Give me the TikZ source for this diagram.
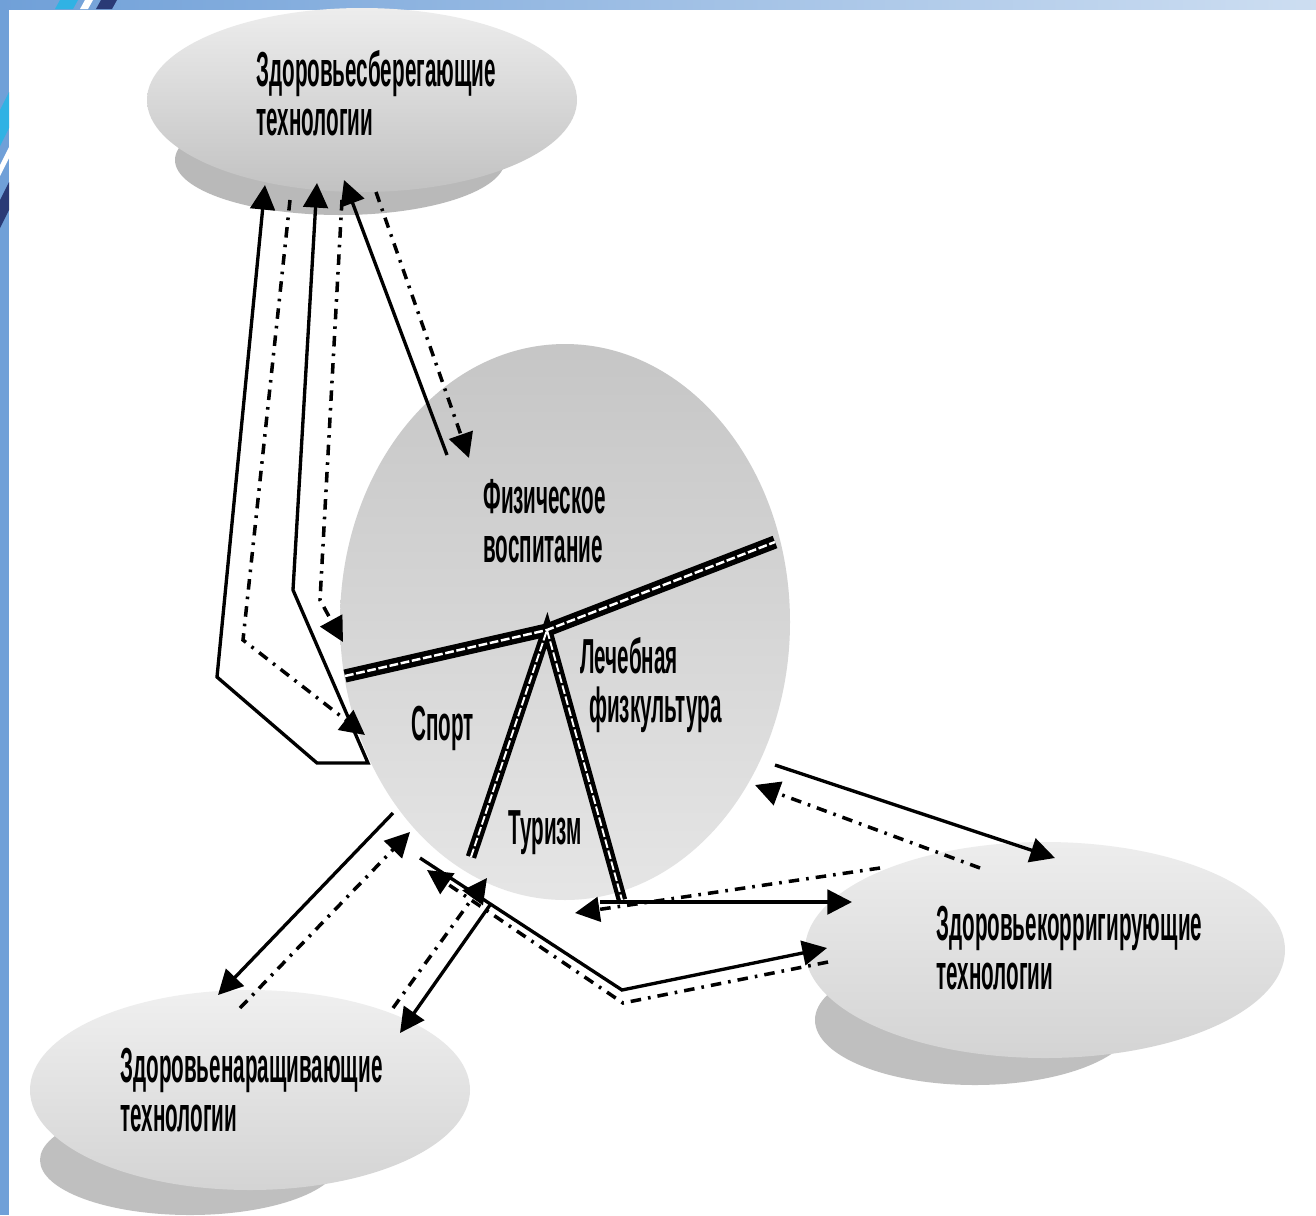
\documentclass[tikz,border=0pt]{standalone}
\usepackage{fontspec}
\setmainfont{Liberation Sans}
\newfontfamily\narrowfont[FakeStretch=0.42]{Liberation Sans}
\usepackage{tikz}
\usetikzlibrary{arrows.meta, positioning}
\definecolor{slideBlue}{RGB}{112,160,216}
\definecolor{slideNavy}{RGB}{42,58,118}
\definecolor{slideCyan}{RGB}{48,178,228}

\begin{document}
\begin{tikzpicture}[
    x=0.02cm, y=-0.02cm,
    font=\narrowfont\bfseries\fontsize{28}{28}\selectfont,
    >={Triangle[length=14pt, width=14pt]},
    txt/.style={align=left, anchor=west, inner sep=0pt},
    link/.style={line width=1.9pt, ->},
    twoway/.style={line width=1.9pt, <->, line join=miter},
    feedback/.style={line width=2pt, ->,
                     dash pattern=on 6pt off 4pt on 1.5pt off 4pt},
    beam/.style={line width=7.5pt, line join=miter},
    beamcore/.style={white, line width=1.4pt, dash pattern=on 5pt off 1.5pt}
]
\useasboundingbox (0,0) rectangle (1316,1215);
\fill[white] (0,0) rectangle (1316,1215);

% Slide frame
\fill[slideBlue] (0,0) rectangle (9,1215);
\shade[left color=slideBlue, right color=slideBlue!35] (0,0) rectangle (1316,9);
\foreach \c/\a/\b in {slideCyan/92/128, white/147/158, slideNavy/182/210} {
  \fill[\c] (0,\a+18) -- (9,\a) -- (9,\b) -- (0,\b+18) -- cycle;
}
\foreach \c/\a/\b in {slideCyan/55/73, white/80/88, slideNavy/96/112} {
  \fill[\c] (\a,9) -- (\a+5,0) -- (\b+5,0) -- (\b,9) -- cycle;
}

% Discs
\fill[gray!55] (340,160) ellipse [x radius=165, y radius=55];
\shade[top color=gray!14, bottom color=gray!48] (362,100) ellipse [x radius=215, y radius=92];
\fill[gray!50] (975,1020) ellipse [x radius=160, y radius=65];
\shade[top color=gray!14, bottom color=gray!34] (1045,950) ellipse [x radius=240, y radius=108];
\fill[gray!50] (190,1160) ellipse [x radius=150, y radius=55];
\shade[top color=gray!12, bottom color=gray!34] (250,1090) ellipse [x radius=220, y radius=100];

% Circle
\shade[top color=gray!45, middle color=gray!22, bottom color=gray!20] (565,622) ellipse [x radius=225, y radius=278];

% Seesaw
\coordinate (pivot) at (547,630);
\coordinate (beamL) at (345,676);
\coordinate (beamR) at (775,542);
\coordinate (legL) at (471,857);
\coordinate (legR) at (622,900);
\draw[beam] (beamL) -- (pivot) -- (beamR);
\draw[beam, line width=6pt] (legL) -- (pivot) -- (legR);
\draw[beamcore] (beamL) -- (pivot) -- (beamR);
\draw[beamcore, line width=1.1pt] (legL) -- (pivot) -- (legR);

% Labels
\node[txt] (sber) at (256,93) {Здоровьесберегающие\\технологии};
\node[txt] (fiz) at (483,521) {Физическое\\воспитание};
\node[txt] (sport) at (411,728) {Спорт};
\node[txt] (lech) at (580,685) {Лечебная\\\hspace*{5pt}физкультура};
\node[txt] (turizm) at (508,833) {Туризм};
\node[txt] (korr) at (936,948) {Здоровьекорригирующие\\технологии};
\node[txt] (narash) at (120,1090) {Здоровьенаращивающие\\технологии};

% Top disc and circle
\coordinate (t1) at (265,185);
\coordinate (t2) at (317,183);
\coordinate (t3) at (344,180);
\coordinate (t4) at (290,200);
\coordinate (t5) at (342,200);
\coordinate (t6) at (376,192);
\coordinate (b1) at (217,677);
\coordinate (b2) at (317,763);
\coordinate (b3) at (368,763);
\coordinate (b4) at (293,590);
\coordinate (b5) at (243,640);
\coordinate (b6) at (320,600);
\coordinate (c1) at (365,735);
\coordinate (c2) at (343,642);
\coordinate (c3) at (447,455);
\coordinate (c4) at (469,458);
\draw[twoway] (t1) -- (b1) -- (b2) -- (b3) -- (b4) -- (t2);
\draw[feedback] (t4) -- (b5) -- (c1);
\draw[feedback] (t5) -- (b6) -- (c2);
\draw[link] (c3) -- (t3);
\draw[feedback] (t6) -- (c4);

% Bottom-left disc and circle
\coordinate (n1) at (393,813);
\coordinate (n2) at (218,995);
\coordinate (n3) at (240,1008);
\coordinate (n4) at (410,832);
\coordinate (n5) at (490,905);
\coordinate (n6) at (400,1033);
\coordinate (n7) at (393,1008);
\coordinate (n8) at (487,878);
\draw[link] (n1) -- (n2);
\draw[feedback] (n3) -- (n4);
\draw[link] (n5) -- (n6);
\draw[feedback] (n7) -- (n8);

% Right disc and circle
\coordinate (k1) at (420,858);
\coordinate (k2) at (622,990);
\coordinate (k3) at (827,948);
\coordinate (k4) at (828,962);
\coordinate (k5) at (623,1003);
\coordinate (k6) at (427,870);
\coordinate (r1) at (775,765);
\coordinate (r2) at (1055,858);
\coordinate (r3) at (980,868);
\coordinate (r4) at (755,785);
\coordinate (r5) at (600,902);
\coordinate (r6) at (852,902);
\coordinate (r7) at (880,868);
\coordinate (r8) at (575,913);
\draw[link] (k1) -- (k2) -- (k3);
\draw[feedback] (k4) -- (k5) -- (k6);
\draw[link] (r1) -- (r2);
\draw[feedback] (r3) -- (r4);
\draw[link] (r5) -- (r6);
\draw[feedback] (r7) -- (r8);
\end{tikzpicture}
\end{document}
